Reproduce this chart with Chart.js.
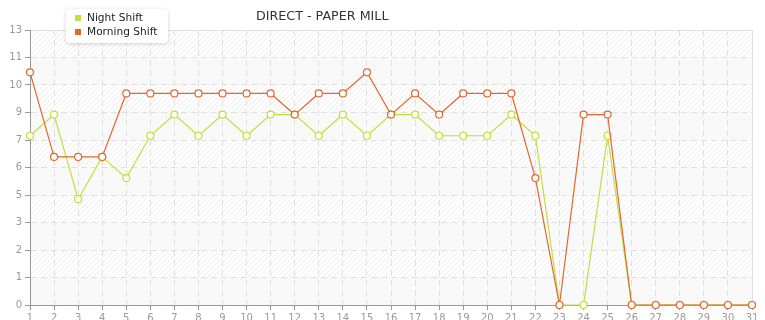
<!DOCTYPE html>
<html>
<head>
<meta charset="utf-8">
<script src="https://cdn.jsdelivr.net/npm/chart.js@4.4.1/dist/chart.umd.min.js"></script>
<style>
  html, body { margin: 0; padding: 0; background: #fff; }
  #wrap { width: 765px; height: 320px; position: relative; }
</style>
</head>
<body>
<div id="wrap"><canvas id="myChart" width="765" height="320"></canvas></div>
<script>
// datos del grafico
const dias = ["1","2","3","4","5","6","7","8","9","10","11","12","13","14","15","16","17","18","19","20","21","22","23","24","25","26","27","28","29","30","31"];
const turnoNoche = [8,9,5,7,6,8,9,8,9,8,9,9,8,9,8,9,9,8,8,8,9,8,0,0,8,0,0,0,0,0,0];
const turnoManana = [11,7,7,7,10,10,10,10,10,10,10,9,10,10,11,9,10,9,10,10,10,6,0,9,9,0,0,0,0,0,0];
const etiquetasY = [0,1,2,3,5,6,7,9,10,11,13];
const titulo = "DIRECT - PAPER MILL";

const colorNoche = "#c3de3a";
const colorManana = "#e2672f";
const fuente = "DejaVu Sans";

// patron rayado para el fondo
function crearPatron(ctx) {
    const c = document.createElement("canvas");
    c.width = 5;
    c.height = 5;
    const p = c.getContext("2d");
    p.strokeStyle = "rgba(0,0,0,0.07)";
    p.lineWidth = 1;
    p.beginPath();
    p.moveTo(0, 5);
    p.lineTo(5, 0);
    p.moveTo(-1, 1);
    p.lineTo(1, -1);
    p.moveTo(4, 6);
    p.lineTo(6, 4);
    p.stroke();
    return ctx.createPattern(c, "repeat");
}

const fondoPlugin = {
    id: "fondo",
    beforeDraw(chart) {
        const { ctx, chartArea, scales } = chart;
        const y = scales.y;
        ctx.save();
        ctx.fillStyle = "#fff";
        ctx.fillRect(chartArea.left, chartArea.top, chartArea.width, chartArea.height);
        ctx.fillStyle = crearPatron(ctx);
        ctx.fillRect(chartArea.left, chartArea.top, chartArea.width, chartArea.height);
        const n = etiquetasY.length - 1;
        for (let i = 0; i < n; i++) {
            if (i % 2 === 0) continue;
            const y1 = y.getPixelForValue(13 * (n - i) / n);
            const y2 = y.getPixelForValue(13 * (n - i - 1) / n);
            ctx.fillStyle = "rgba(248,248,248,0.85)";
            ctx.fillRect(chartArea.left, y1, chartArea.width, y2 - y1);
        }
        // borde derecho y superior
        ctx.strokeStyle = "#e2e2e2";
        ctx.lineWidth = 1;
        ctx.beginPath();
        ctx.moveTo(chartArea.left, chartArea.top + 0.5);
        ctx.lineTo(chartArea.right + 0.5, chartArea.top + 0.5);
        ctx.lineTo(chartArea.right + 0.5, chartArea.bottom);
        ctx.stroke();
        ctx.restore();
    }
};

const leyendaPlugin = {
    id: "leyenda",
    afterDraw(chart) {
        const { ctx } = chart;
        ctx.save();
        // titulo
        ctx.font = "12.7px '" + fuente + "'";
        ctx.fillStyle = "#333";
        ctx.textBaseline = "middle";
        ctx.textAlign = "left";
        ctx.fillText(titulo, 256, 17);

        // caja de la leyenda
        ctx.shadowColor = "rgba(0,0,0,0.18)";
        ctx.shadowBlur = 4;
        ctx.shadowOffsetY = 1;
        ctx.fillStyle = "#fff";
        ctx.beginPath();
        ctx.roundRect(66, 9, 102, 34, 4);
        ctx.fill();
        ctx.shadowColor = "transparent";

        ctx.font = "10.6px '" + fuente + "'";
        const orden = ["Night Shift", "Morning Shift"];
        orden.forEach((nombre, i) => {
            const ds = chart.data.datasets.find((d) => d.label === nombre);
            const yy = 18 + i * 14;
            ctx.fillStyle = ds.borderColor;
            ctx.fillRect(75, yy - 3, 6, 6);
            ctx.fillStyle = "#222";
            ctx.fillText(ds.label, 87, yy);
        });
        ctx.restore();
    }
};

function cargarGrafico() {
    const canvas = document.getElementById("myChart");

    // morning primero para que quede dibujado encima
    const datasets = [
        {
            label: "Morning Shift",
            data: turnoManana,
            borderColor: colorManana,
            backgroundColor: "#fff",
            pointBorderColor: colorManana,
            pointBackgroundColor: "#fff",
            borderWidth: 1.2,
            pointRadius: 3.5,
            pointBorderWidth: 1.2,
            tension: 0
        },
        {
            label: "Night Shift",
            data: turnoNoche,
            borderColor: colorNoche,
            backgroundColor: "#fff",
            pointBorderColor: colorNoche,
            pointBackgroundColor: "#fff",
            borderWidth: 1.2,
            pointRadius: 3.5,
            pointBorderWidth: 1.2,
            tension: 0
        }
    ];

    const config = {
        type: "line",
        data: { labels: dias, datasets },
        options: {
            responsive: false,
            animation: false,
            clip: false,
            layout: { padding: { top: 30, right: 13, left: 0, bottom: 0 } },
            plugins: {
                legend: { display: false },
                title: { display: false },
                tooltip: { enabled: false }
            },
            scales: {
                x: {
                    offset: false,
                    grid: {
                        color: "#e0e0e0",
                        drawTicks: true,
                        tickLength: 5,
                        tickColor: "#999",
                        tickBorderDash: []
                    },
                    border: { color: "#999", width: 1, dash: [6, 4] },
                    ticks: {
                        color: "#999",
                        font: { family: fuente, size: 10 },
                        padding: 2,
                        maxRotation: 0,
                        autoSkip: false
                    },
                    afterFit(scale) { scale.height = 15; }
                },
                y: {
                    min: 0,
                    max: 13,
                    afterBuildTicks(scale) {
                        const n = etiquetasY.length - 1;
                        scale.ticks = etiquetasY.map((v, i) => ({ value: 13 * i / n }));
                    },
                    grid: {
                        color: "#e0e0e0",
                        drawTicks: true,
                        tickLength: 5,
                        tickColor: "#999",
                        tickBorderDash: []
                    },
                    border: { color: "#999", width: 1, dash: [6, 4] },
                    ticks: {
                        color: "#999",
                        font: { family: fuente, size: 10 },
                        padding: 3,
                        callback: (v, i) => etiquetasY[i]
                    },
                    afterFit(scale) { scale.width = 30; }
                }
            }
        },
        plugins: [fondoPlugin, leyendaPlugin]
    };

    new Chart(canvas, config);
}

cargarGrafico();
</script>
</body>
</html>
